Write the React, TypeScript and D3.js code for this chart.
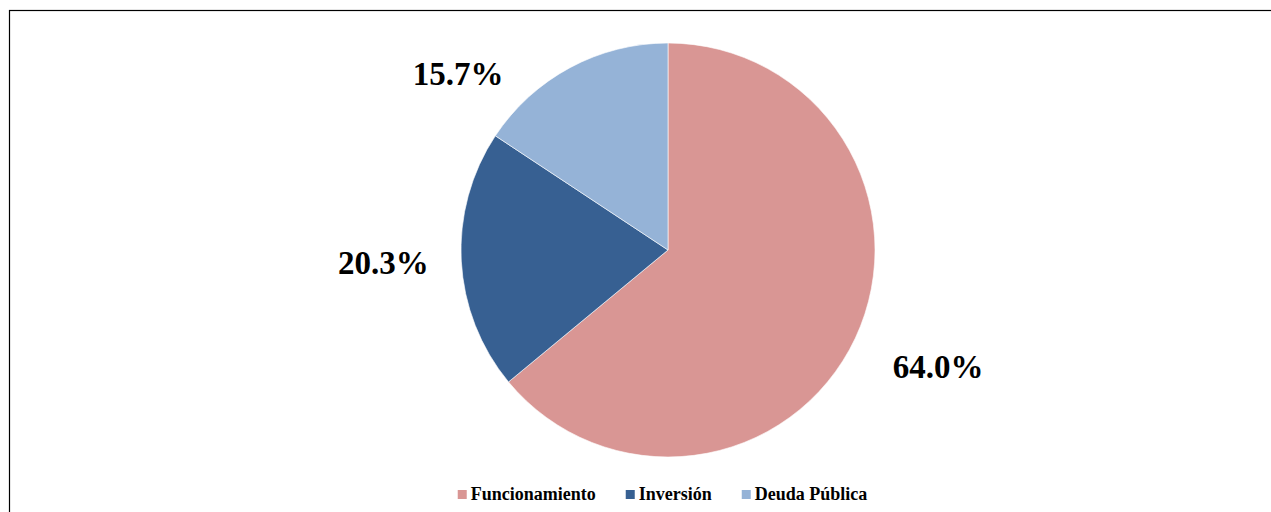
import React from 'react';
import * as d3 from 'd3';

const categories = ['Funcionamiento', 'Inversión', 'Deuda Pública'];
const shares = [64.0, 20.3, 15.7];
const colors = ['#D99694', '#376092', '#95B3D7'];

// label placement (degrees clockwise from top, distance from centre)
const labelAngles = [113.3, 267.6, 310];
const labelRadii = [294, 285, 274];

const W = 1271;
const H = 512;
const cx = 668;
const cy = 250;
const radius = 207;
const serif = "'Liberation Serif', 'Times New Roman', serif";

function measure(text: string, font: string) {
  const ctx = document.createElement('canvas').getContext('2d');
  if (!ctx) return text.length * 9;
  ctx.font = font;
  return ctx.measureText(text).width;
}

export default function App() {
  const data = categories.map((c, i) => ({ label: c, value: shares[i], color: colors[i] }));
  const pie = d3.pie<{ label: string; value: number; color: string }>()
    .value(d => d.value)
    .sort(null);
  const arc = d3.arc<d3.PieArcDatum<{ label: string; value: number; color: string }>>()
    .innerRadius(0)
    .outerRadius(radius);
  const arcs = pie(data);

  // legend layout
  const legendFont = `bold 18px ${serif}`;
  const box = 9;
  const boxGap = 4;
  const itemGap = 30;
  const widths = categories.map(c => box + boxGap + measure(c, legendFont));
  const total = d3.sum(widths) + itemGap * (categories.length - 1);
  let lx = 662.5 - total / 2;
  const legendItems = categories.map((c, i) => {
    const x = lx;
    lx += widths[i] + itemGap;
    return { c, x, color: colors[i] };
  });

  return (
    <svg width={W} height={H} style={{ position: 'absolute', left: 0, top: 0, background: '#fff' }}>
      <rect x={9.5} y={10.5} width={1300} height={600} fill="#fff" stroke="#000" strokeWidth={1.2} />
      <g transform={`translate(${cx},${cy})`}>
        {arcs.map((a, i) => (
          <path key={i} d={arc(a) as string} fill={a.data.color} stroke="#fff" strokeWidth={0.6} />
        ))}
        {arcs.map((a, i) => {
          const t = (labelAngles[i] * Math.PI) / 180;
          const x = Math.sin(t) * labelRadii[i];
          const y = -Math.cos(t) * labelRadii[i];
          return (
            <text
              key={'l' + i}
              x={x}
              y={y}
              dy="0.35em"
              textAnchor="middle"
              fontFamily={serif}
              fontWeight="bold"
              fontSize={33}
              fill="#000"
            >
              {d3.format('.1f')(a.data.value)}%
            </text>
          );
        })}
      </g>
      <g>
        {legendItems.map((it, i) => (
          <g key={i} transform={`translate(${it.x},0)`}>
            <rect x={0} y={490} width={box} height={box} fill={it.color} />
            <text x={box + boxGap} y={500} fontFamily={serif} fontWeight="bold" fontSize={18} fill="#000">
              {it.c}
            </text>
          </g>
        ))}
      </g>
    </svg>
  );
}
